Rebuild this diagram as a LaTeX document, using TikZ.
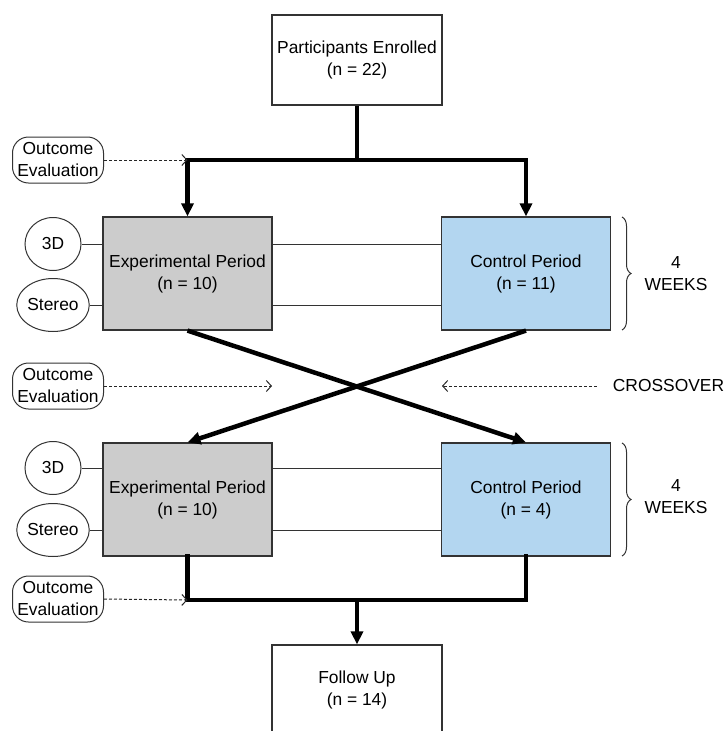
\documentclass[tikz,border=0pt]{standalone}
\usepackage{fontspec}
\setmainfont{Liberation Sans}
\usepackage{xcolor}
\usepackage{tikz}
\usetikzlibrary{arrows.meta}
\usetikzlibrary{shapes}
\usetikzlibrary{decorations.pathreplacing}

\definecolor{expgray}{HTML}{CCCCCC}
\definecolor{ctlblue}{HTML}{B3D6F0}
\definecolor{edgegray}{HTML}{333333}

\tikzset{
    txt/.style = {font=\fontsize{17.4}{22}\selectfont, align=center, text=black},
    period/.style = {txt, draw=edgegray, line width=1.2pt, minimum width=169pt, minimum height=113pt, inner sep=0pt},
    plainbox/.style = {period, fill=white, minimum width=170pt, minimum height=90pt},
    mode/.style = {txt, ellipse, draw=edgegray, line width=1pt, minimum width=56pt, minimum height=53pt, inner sep=0pt},
    outcome/.style = {txt, draw=edgegray, line width=1pt, rounded corners=16pt, minimum width=91pt, minimum height=46pt, inner sep=0pt},
    heavy/.style = {line width=4.5pt, black},
    heavyarrow/.style = {heavy, -{Triangle[length=13pt,width=12pt]}},
    thin/.style = {line width=1pt, edgegray},
    dasharrow/.style = {line width=1pt, black!85, dash pattern=on 3pt off 2pt, -{Straight Barb[length=5pt,width=11pt]}},
    weekbrace/.style = {line width=1pt, edgegray, decorate, decoration={brace, amplitude=9pt}}
}

\begin{document}
\begin{tikzpicture}[x=1pt, y=-1pt]
            \useasboundingbox (0, 0) rectangle (724, 731);
            \clip (0, 0) rectangle (724, 731);

            \node[plainbox] (part) at (357, 60) {Participants Enrolled\\(n = 22)};

            \node[period, fill=expgray] (exp1) at (187.5, 273.5) {Experimental Period\\(n = 10)};
            \node[period, fill=ctlblue] (ctl1) at (526, 273.5) {Control Period\\(n = 11)};
            \node[period, fill=expgray] (exp2) at (187.5, 499.5) {Experimental Period\\(n = 10)};
            \node[period, fill=ctlblue] (ctl2) at (526, 499.5) {Control Period\\(n = 4)};

            \node[plainbox] (follow) at (357, 690) {Follow Up\\(n = 14)};

            \node[mode] (td1) at (53, 244) {3D};
            \node[mode] (st1) at (53, 305) {Stereo};
            \node[mode] (td2) at (53, 468) {3D};
            \node[mode] (st2) at (53, 530) {Stereo};

            \node[outcome] (out1) at (58, 160) {Outcome\\Evaluation};
            \node[outcome] (out2) at (58, 386) {Outcome\\Evaluation};
            \node[outcome] (out3) at (58, 599) {Outcome\\Evaluation};

            \node[txt, inner sep=0pt] (cross) at (668.5, 386) {CROSSOVER};
            \node[txt] (wk1) at (676, 273.5) {4\\WEEKS};
            \node[txt] (wk2) at (676, 497) {4\\WEEKS};

            \coordinate (busL) at (187.5, 160);
            \coordinate (busR) at (526, 160);
            \coordinate (joinL) at (187.5, 600);
            \coordinate (joinR) at (526, 600);
            \coordinate (midL) at (272, 386);
            \coordinate (midR) at (442, 386);

            % enrolment split
            \draw[heavy] (part.south) -- (part.south |- busL);
            \draw[heavy, line cap=rect] (busL) -- (busR);
            \draw[heavyarrow] (busL) -- (exp1.north);
            \draw[heavyarrow] (busR) -- (ctl1.north);

            % crossover
            \draw[heavyarrow] (exp1.south) -- (ctl2.north);
            \draw[heavyarrow] (ctl1.south) -- (exp2.north);

            % follow up
            \draw[heavy, line cap=rect] (exp2.south) -- (joinL) -- (joinR) -- (ctl2.south);
            \draw[heavyarrow] (follow.north |- joinL) -- (follow.north);

            \foreach \m/\p in {td1/exp1, st1/exp1, td2/exp2, st2/exp2}
                \draw[thin] (\m.east) -- (\p.west |- \m);
            \draw[thin] (exp1.east |- td1) -- (ctl1.west |- td1);
            \draw[thin] (exp1.east |- st1) -- (ctl1.west |- st1);
            \draw[thin] (exp2.east |- td2) -- (ctl2.west |- td2);
            \draw[thin] (exp2.east |- st2) -- (ctl2.west |- st2);

            \draw[dasharrow] (out1.east) -- (busL);
            \draw[dasharrow] (out2.east) -- (midL);
            \draw[dasharrow, shorten <=16pt] (cross.west) -- (midR);
            \draw[dasharrow] (out3.east) -- (joinL);

            \draw[weekbrace] (622, 217) -- (622, 330);
            \draw[weekbrace] (622, 443) -- (622, 556);
        \end{tikzpicture}
\end{document}
